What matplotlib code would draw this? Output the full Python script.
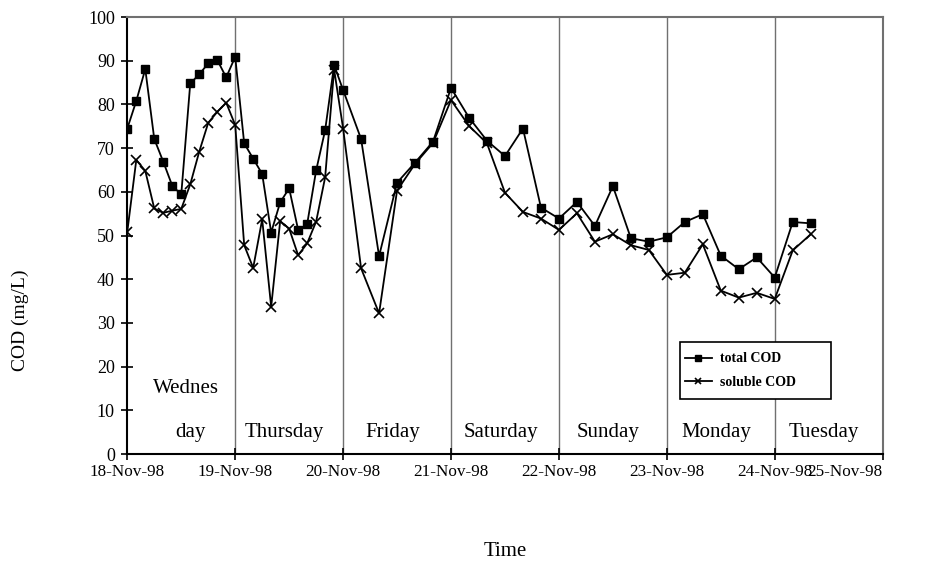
import numpy as np
import matplotlib.pyplot as plt
import matplotlib.dates as mdates
from matplotlib.patches import Rectangle

plt.rcParams['font.family'] = ['Liberation Serif', 'DejaVu Serif']

# sampling times, hours after 18-Nov-98 00:00
hours = [0, 2, 4, 6, 8, 10, 12, 14, 16, 18, 20, 22, 24,
         26, 28, 30, 32, 34, 36, 38, 40, 42, 44, 46, 48,
         52, 56, 60, 64, 68, 72,
         76, 80, 84, 88, 92, 96,
         100, 104, 108, 112, 116, 120,
         124, 128, 132, 136, 140, 144,
         148, 152]

total_cod = [74.5, 80.8, 88.1, 72.1, 66.9, 61.4, 59.4, 84.8, 86.9, 89.4, 90.2, 86.2, 90.9,
             71.1, 67.6, 64.1, 50.7, 57.6, 60.8, 51.3, 52.6, 64.9, 74.1, 89.0, 83.3,
             72.1, 45.3, 62.1, 66.7, 71.5, 83.8,
             77.0, 71.7, 68.2, 74.5, 56.4, 53.9,
             57.7, 52.2, 61.3, 49.4, 48.6, 49.6,
             53.1, 54.9, 45.4, 42.3, 45.0, 40.4,
             53.1, 52.8]

soluble_cod = [50.9, 67.3, 64.8, 56.2, 55.2, 55.7, 56.1, 61.7, 69.2, 75.8, 78.3, 80.4, 75.3,
               47.8, 42.6, 53.7, 33.7, 53.3, 51.6, 45.5, 48.2, 53.2, 63.3, 88.0, 74.5,
               42.5, 32.2, 60.3, 66.4, 71.2, 81.0,
               75.1, 71.1, 59.8, 55.4, 53.9, 51.3,
               55.1, 48.6, 50.3, 47.8, 46.7, 41.0,
               41.5, 48.0, 37.4, 35.8, 36.9, 35.5,
               46.6, 50.3]

day_names = ['Thursday', 'Friday', 'Saturday', 'Sunday', 'Monday', 'Tuesday']

start = np.datetime64('1998-11-18T00:00')
t = start + np.array(hours).astype('timedelta64[h]')
days = start + np.arange(8).astype('timedelta64[D]')

fig = plt.figure(figsize=(9.36, 5.69), dpi=100)
ax = fig.add_axes([0.136, 0.202, 0.807, 0.768])

# day separators
for d in days[1:7]:
    ax.axvline(d, color='#707070', lw=1.0, zorder=1)

ax.plot(t, total_cod, '-', color='black', lw=1.3, marker='s', ms=6,
        mfc='black', mec='black', label='total COD', zorder=3)
ax.plot(t, soluble_cod, '-', color='black', lw=1.3, marker='x', ms=7,
        mew=1.2, label='soluble COD', zorder=3)

ax.set_xlim(days[0], days[7])
ax.set_ylim(0, 100)
ax.set_yticks(np.arange(0, 101, 10))
ax.xaxis.set_major_locator(mdates.DayLocator())
ax.xaxis.set_major_formatter(mdates.DateFormatter('%d-%b-%y'))
ax.tick_params(axis='both', direction='inout', length=8, width=1.2,
               labelsize=12.3)
ax.tick_params(axis='x', pad=3)
ax.tick_params(axis='y', pad=5, labelsize=13)
for sp in ['left', 'bottom']:
    ax.spines[sp].set_linewidth(1.5)
for sp in ['top', 'right']:
    ax.spines[sp].set_color('#707070')
    ax.spines[sp].set_linewidth(1.5)

fig.canvas.draw()
labels = ax.get_xticklabels()
labels[-1].set_horizontalalignment('right')

# day names inside each column
half = np.timedelta64(12, 'h')
ax.text(start + np.timedelta64(13, 'h'), 15, 'Wednes', ha='center', va='center', fontsize=15)
ax.text(start + np.timedelta64(14, 'h'), 5, 'day', ha='center', va='center', fontsize=15)
for i, name in enumerate(day_names):
    ax.text(days[i + 1] + half - np.timedelta64(1, 'h'), 5, name,
            ha='center', va='center', fontsize=15)

ax.set_ylabel('COD (mg/L)', fontsize=14, labelpad=36)
ax.yaxis.set_label_coords(-0.13, 0.307)
ax.set_xlabel('Time', fontsize=15, labelpad=45)

# legend with a wide box drawn separately
leg = ax.legend(loc='center left', bbox_to_anchor=(0.738, 0.191),
                prop={'weight': 'bold', 'size': 10}, frameon=False,
                borderpad=0, borderaxespad=0, labelspacing=0.75,
                handlelength=1.95, handletextpad=0.6, markerscale=0.7)
ax.add_patch(Rectangle((0.7314, 0.1259), 0.2007, 0.1297, transform=ax.transAxes,
                       fill=True, facecolor='white', edgecolor='black', lw=1.2,
                       zorder=4))
leg.set_zorder(5)

fig.savefig('out.png', dpi=100)
